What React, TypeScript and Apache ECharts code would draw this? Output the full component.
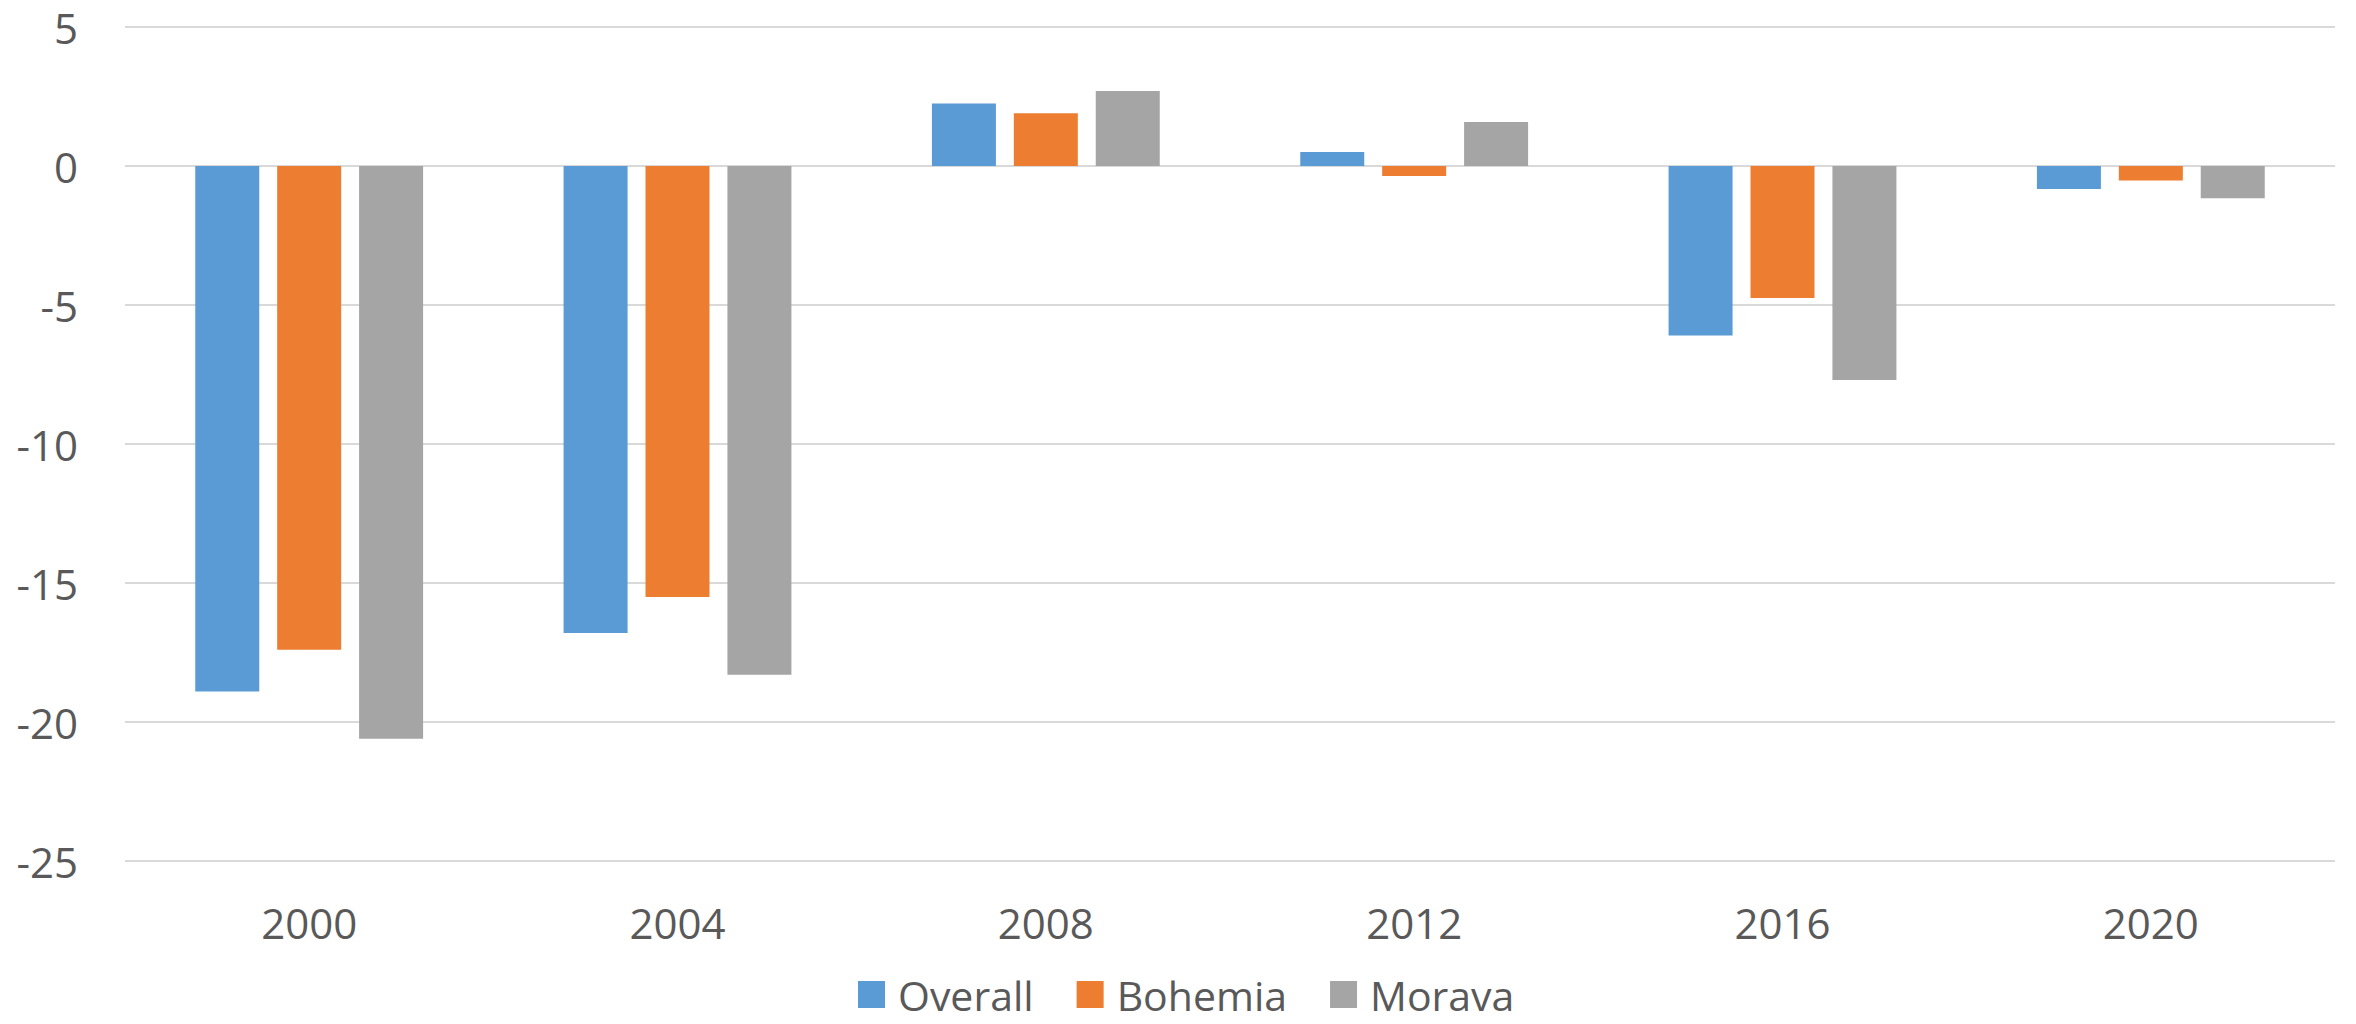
import React, { useEffect, useRef } from "react";
import * as echarts from "echarts";

const categories = ["2000", "2004", "2008", "2012", "2016", "2020"];
const overall = [-18.9, -16.8, 2.25, 0.5, -6.1, -0.83];
const bohemia = [-17.4, -15.5, 1.9, -0.36, -4.75, -0.52];
const morava = [-20.6, -18.3, 2.7, 1.58, -7.7, -1.16];
const seriesNames = ["Overall", "Bohemia", "Morava"];
const colors = ["#5B9BD5", "#ED7D31", "#A5A5A5"];

const FONT = "'Open Sans', 'Segoe UI', sans-serif";
const TEXT = "#595959";

export default function App() {
  const ref = useRef<HTMLDivElement>(null);
  useEffect(() => {
    if (!ref.current) return;
    const chart = echarts.init(ref.current, undefined, { renderer: "svg" });
    const data = [overall, bohemia, morava];
    chart.setOption({
      animation: false,
      backgroundColor: "#ffffff",
      color: colors,
      grid: { left: 125, right: 21, top: 27, bottom: 163, containLabel: false },
      legend: {
        data: seriesNames,
        left: 858,
        top: 974,
        padding: 0,
        icon: "rect",
        itemWidth: 27,
        itemHeight: 27,
        itemGap: 43,
        textStyle: {
          fontFamily: FONT,
          fontSize: 41,
          lineHeight: 40,
          color: TEXT,
          padding: [0, 0, 0, 8],
        },
      },
      xAxis: {
        type: "category",
        data: categories,
        axisLine: { show: false },
        axisTick: { show: false },
        axisLabel: { fontFamily: FONT, fontSize: 42, color: TEXT, margin: 40 },
      },
      yAxis: {
        type: "value",
        min: -25,
        max: 5,
        interval: 5,
        axisLine: { show: false },
        axisTick: { show: false },
        axisLabel: { fontFamily: FONT, fontSize: 42, color: TEXT, margin: 47 },
        splitLine: { lineStyle: { color: "#d9d9d9", width: 2 } },
      },
      series: seriesNames.map((name, i) => ({
        name,
        type: "bar",
        data: data[i],
        barWidth: 64,
        barGap: "28%",
        itemStyle: { color: colors[i] },
      })),
    });
    return () => chart.dispose();
  }, []);
  return (
    <div
      ref={ref}
      style={{ position: "fixed", left: 0, top: 0, width: "2356px", height: "1024px" }}
    />
  );
}
